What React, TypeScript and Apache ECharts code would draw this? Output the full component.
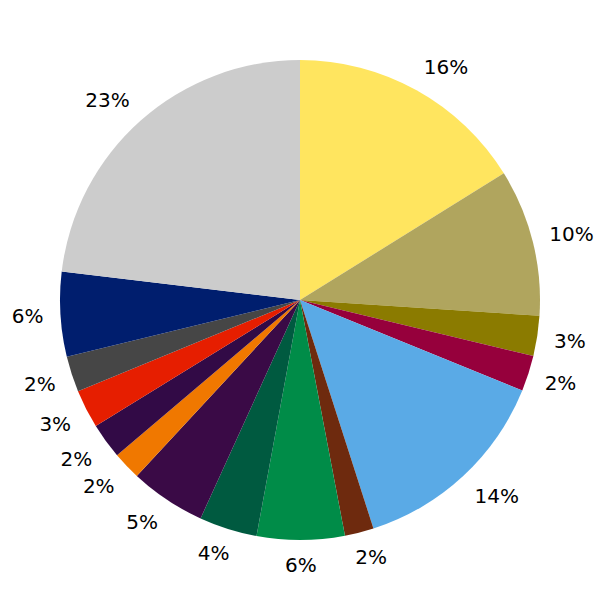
import React, { useEffect, useRef } from "react";
import * as echarts from "echarts";

const categories = [
  "A", "B", "C", "D", "E", "F", "G", "H", "I", "J", "K", "L", "M", "N", "O",
];
const values = [16.15, 9.9, 2.7, 2.4, 13.9, 1.95, 5.9, 3.9, 5.1, 1.9, 2.4, 2.6, 2.4, 5.7, 23.1];
const colors = [
  "#FFE55F", "#B0A55E", "#8B7B00", "#96003C", "#5AAAE6", "#6E2A0E", "#008C48",
  "#005A40", "#3A0A46", "#F07800", "#320A46", "#E61E00", "#464646", "#001E6E", "#CCCCCC",
];

const FONT_SIZE = 20;
const FONT_FAMILY = "DejaVu Sans";

export default function App() {
  const ref = useRef<HTMLDivElement>(null);
  useEffect(() => {
    document.body.style.margin = "0";
    if (!ref.current) return;
    const chart = echarts.init(ref.current, undefined, { renderer: "svg" });

    const R = 240;
    const ringMid = 270; // inside-label radius of the transparent label ring
    const D = 255;
    const hh = 7.3;
    const canvas = document.createElement("canvas");
    const ctx = canvas.getContext("2d")!;
    ctx.font = `${FONT_SIZE}px '${FONT_FAMILY}'`;
    const total = values.reduce((a, b) => a + b, 0);
    let cum = 0;
    const clamp = (x: number) => Math.max(-1, Math.min(1, x));

    const labelData = categories.map((c, i) => {
      const v = values[i];
      const text = Math.round((v / total) * 100) + "%";
      const theta = ((cum + v / 2) / total) * 2 * Math.PI;
      cum += v;
      const ux = Math.sin(theta);
      const uy = -Math.cos(theta);
      const hw = ctx.measureText(text).width / 2 - 1;
      const cx = D * ux + hw * clamp(2 * ux);
      const cy = D * uy + hh * clamp(2 * uy);
      return {
        name: c,
        value: v,
        label: { offset: [cx - ringMid * ux, cy - ringMid * uy] },
      };
    });

    const data = categories.map((c, i) => ({
      name: c,
      value: values[i],
      itemStyle: { color: colors[i] },
    }));

    chart.setOption({
      animation: false,
      series: [
        {
          type: "pie",
          center: [300, 300],
          radius: [0, R],
          startAngle: 90,
          clockwise: true,
          silent: true,
          label: { show: false },
          labelLine: { show: false },
          itemStyle: { borderWidth: 0 },
          data,
        },
        {
          type: "pie",
          center: [300, 300],
          radius: [R, 300],
          startAngle: 90,
          clockwise: true,
          silent: true,
          itemStyle: { color: "transparent", borderWidth: 0 },
          label: {
            show: true,
            position: "inside",
            rotate: 0,
            fontFamily: FONT_FAMILY,
            fontSize: FONT_SIZE,
            color: "#000",
            align: "center",
            verticalAlign: "middle",
            formatter: (p: any) => Math.round(p.percent) + "%",
          },
          labelLine: { show: false },
          data: labelData,
        },
      ],
    });
    return () => chart.dispose();
  }, []);
  return <div ref={ref} style={{ width: 600, height: 600 }} />;
}
